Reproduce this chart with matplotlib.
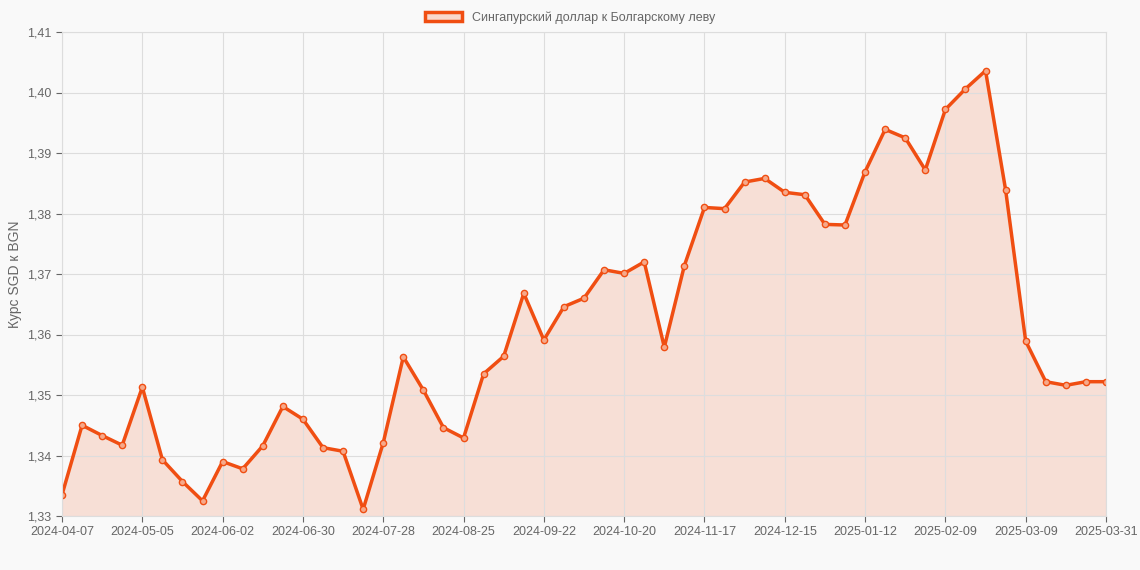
import matplotlib.pyplot as plt
from matplotlib.ticker import FuncFormatter
from matplotlib.patches import Patch

plt.rcParams['font.family'] = ['Liberation Sans', 'DejaVu Sans']

values = [1.3335, 1.3450, 1.3433, 1.3417, 1.3513, 1.3393, 1.3357, 1.3325, 1.3390, 1.3378,
          1.3416, 1.3481, 1.3460, 1.3413, 1.3407, 1.3311, 1.3421, 1.3563, 1.3508, 1.3446,
          1.3429, 1.3535, 1.3564, 1.3668, 1.3591, 1.3646, 1.3660, 1.3707, 1.3701, 1.3720,
          1.3579, 1.3714, 1.3810, 1.3808, 1.3852, 1.3858, 1.3835, 1.3831, 1.3782, 1.3781,
          1.3869, 1.3939, 1.3925, 1.3872, 1.3972, 1.4006, 1.4036, 1.3839, 1.3589, 1.3522,
          1.3516, 1.3522, 1.3522]
tick_labels = ['2024-04-07', '2024-05-05', '2024-06-02', '2024-06-30', '2024-07-28',
               '2024-08-25', '2024-09-22', '2024-10-20', '2024-11-17', '2024-12-15',
               '2025-01-12', '2025-02-09', '2025-03-09', '2025-03-31']
tick_pos = list(range(0, 49, 4)) + [len(values) - 1]

color = '#f04e12'
x = list(range(len(values)))

fig = plt.figure(figsize=(11.4, 5.7), dpi=100, facecolor='#f9f9f9')
ax = fig.add_axes([62 / 1140, 1 - 516 / 570, (1106 - 62) / 1140, (516 - 32) / 570])
ax.set_facecolor('#f9f9f9')

ax.fill_between(x, values, 1.33, color=color, alpha=0.15, linewidth=0)
ax.plot(x, values, color=color, linewidth=2.5, marker='o', markersize=4.5,
        markerfacecolor='#f6a98a', markeredgecolor=color, markeredgewidth=1)

ax.set_xlim(0, len(values) - 1)
ax.set_ylim(1.33, 1.41)
ax.set_yticks([1.33 + 0.01 * i for i in range(9)])
ax.yaxis.set_major_formatter(FuncFormatter(lambda v, p: f'{v:.2f}'.replace('.', ',')))
ax.set_xticks(tick_pos)
ax.set_xticklabels(tick_labels)
ax.grid(True, which='major', color='#dddddd', linewidth=0.8)
ax.tick_params(colors='#666666', labelsize=9, length=4)
for s in ax.spines.values():
    s.set_color('#dddddd')
ax.set_ylabel('Курс SGD к BGN', color='#666666', fontsize=10)

fig.legend(handles=[Patch(facecolor='#f9d8cc', edgecolor=color, linewidth=2.5)],
           labels=['Сингапурский доллар к Болгарскому леву'],
           loc='upper center', bbox_to_anchor=(0.5, 1.0), frameon=False,
           fontsize=9, labelcolor='#666666', handlelength=3)

fig.savefig('out.png', dpi=100, facecolor=fig.get_facecolor())
